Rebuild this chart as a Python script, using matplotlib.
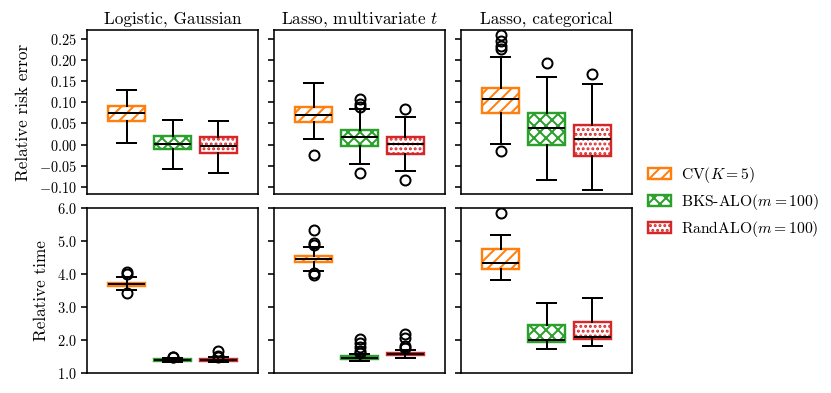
import matplotlib
matplotlib.use("Agg")
import matplotlib.pyplot as plt
from matplotlib.patches import Patch
from matplotlib.ticker import FuncFormatter

plt.rcParams['font.family'] = 'serif'
plt.rcParams['font.serif'] = ['cmr10']
plt.rcParams['mathtext.fontset'] = 'cm'
plt.rcParams['axes.formatter.use_mathtext'] = True
plt.rcParams['hatch.linewidth'] = 1.0

# methods and colours
metodos = ["CV$(K=5)$", "BKS-ALO$(m=100)$", "RandALO$(m=100)$"]
cores = ["#ff7f0e", "#2ca02c", "#d62728"]
hatches = ["////", "xxxx", "....."]
titulos = ["Logistic, Gaussian", "Lasso, multivariate $t$", "Lasso, categorical"]
ylabels = ["Relative risk error", "Relative time"]

# box stats: (whislo, q1, med, q3, whishi, fliers)
# row 0 = relative risk error, row 1 = relative time
erro_logistic = [
    (0.004, 0.056, 0.075, 0.091, 0.130, []),
    (-0.058, -0.011, 0.001, 0.020, 0.059, []),
    (-0.067, -0.020, -0.004, 0.018, 0.056, []),
]
erro_lasso_t = [
    (0.013, 0.053, 0.070, 0.090, 0.145, [-0.025]),
    (-0.046, -0.003, 0.017, 0.034, 0.083, [0.108, 0.095, 0.090, -0.068]),
    (-0.063, -0.023, 0.001, 0.017, 0.066, [0.085, -0.084]),
]
erro_lasso_cat = [
    (0.002, 0.075, 0.108, 0.134, 0.206, [0.258, 0.244, 0.232, 0.225, -0.015]),
    (-0.084, 0.000, 0.039, 0.075, 0.159, [0.192]),
    (-0.108, -0.026, 0.012, 0.046, 0.144, [0.166]),
]
tempo_logistic = [
    (3.52, 3.63, 3.69, 3.74, 3.92, [4.06, 3.99, 3.41]),
    (1.32, 1.36, 1.38, 1.41, 1.45, [1.50, 1.47]),
    (1.33, 1.36, 1.39, 1.42, 1.47, [1.66, 1.52, 1.48]),
]
tempo_lasso_t = [
    (4.09, 4.36, 4.45, 4.54, 4.81, [5.34, 4.93, 4.88, 4.02, 3.97]),
    (1.37, 1.41, 1.46, 1.52, 1.58, [2.02, 1.90, 1.78, 1.68, 1.62]),
    (1.46, 1.55, 1.58, 1.62, 1.71, [2.18, 2.07, 1.82, 1.76]),
]
tempo_lasso_cat = [
    (3.83, 4.15, 4.33, 4.77, 5.18, [5.85]),
    (1.74, 1.94, 2.00, 2.45, 3.12, []),
    (1.82, 2.02, 2.08, 2.54, 3.26, []),
]

dados = [[erro_logistic, erro_lasso_t, erro_lasso_cat],
         [tempo_logistic, tempo_lasso_t, tempo_lasso_cat]]

W, H = 831, 393
fig = plt.figure(figsize=(W / 144, H / 144), dpi=144)

lefts = [87, 274, 461]
larg = 171
linhas = [(30, 194), (208, 373)]
ylims = [(-0.117, 0.271), (1.0, 6.0)]
yticks = [[-0.10, -0.05, 0.0, 0.05, 0.10, 0.15, 0.20, 0.25],
          [1.0, 2.0, 3.0, 4.0, 5.0, 6.0]]
fmts = ["{:.2f}", "{:.1f}"]

for r in range(2):
    topo, base = linhas[r]
    for c in range(3):
        ax = fig.add_axes([lefts[c] / W, 1 - base / H, larg / W, (base - topo) / H])
        stats = []
        for (lo, q1, med, q3, hi, fl) in dados[r][c]:
            stats.append({"whislo": lo, "q1": q1, "med": med, "q3": q3,
                          "whishi": hi, "fliers": fl})
        bp = ax.bxp(stats, positions=[1, 2, 3], widths=0.8, patch_artist=True,
                    medianprops=dict(color="black", linewidth=1.0),
                    whiskerprops=dict(color="black", linewidth=1.0),
                    capprops=dict(color="black", linewidth=1.0),
                    flierprops=dict(marker="o", markersize=5, markerfacecolor="none",
                                    markeredgecolor="black", markeredgewidth=1.0))
        for caixa, cor, h in zip(bp["boxes"], cores, hatches):
            caixa.set_facecolor("white")
            caixa.set_edgecolor(cor)
            caixa.set_hatch(h)
            caixa.set_linewidth(1.2)
        ax.set_xlim(0.14, 3.86)
        ax.set_ylim(*ylims[r])
        ax.set_xticks([])
        ax.set_yticks(yticks[r])
        f = fmts[r]
        ax.yaxis.set_major_formatter(FuncFormatter(lambda v, p, f=f: "$\\mathdefault{" + f.format(v) + "}$"))
        ax.tick_params(axis="y", labelsize=7.2, length=3, width=0.8, pad=2)
        if c > 0:
            ax.tick_params(axis="y", labelleft=False)
        else:
            ax.set_ylabel(ylabels[r], fontsize=8.6, labelpad=4)
        if r == 0:
            ax.set_title(titulos[c], fontsize=8.6, pad=3)

handles = [Patch(facecolor="white", edgecolor=cor, hatch=h, linewidth=1.2)
           for cor, h in zip(cores, hatches)]
fig.legend(handles, metodos, loc="center left", bbox_to_anchor=(634 / W, 1 - 202 / H),
           frameon=False, fontsize=7.8, handlelength=1.5, handleheight=0.7,
           handletextpad=0.6, labelspacing=0.45)

fig.savefig("out.png", dpi=144)
